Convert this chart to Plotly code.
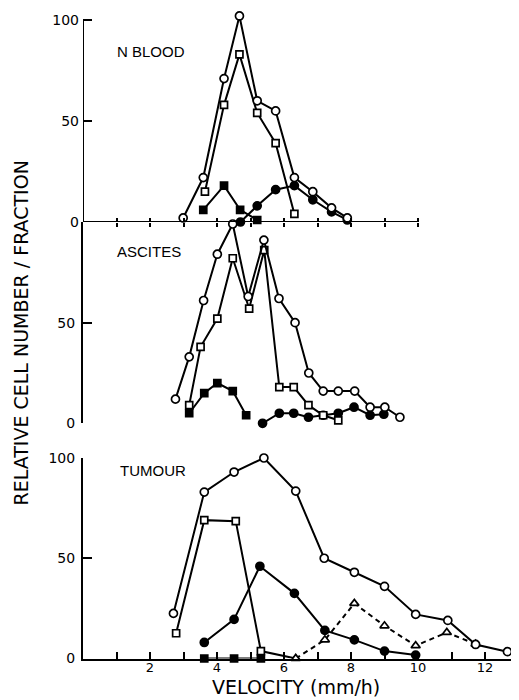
import plotly.graph_objects as go

# ---------------- data ----------------
# N BLOOD panel
nb_open_circle_x = [2.99, 3.59, 4.21, 4.67, 5.20, 5.75, 6.31, 6.86, 7.42, 7.89]
nb_open_circle_y = [2, 22, 71, 102, 60, 55, 22, 15, 7, 2]
nb_open_square_x = [3.64, 4.21, 4.67, 5.20, 5.75, 6.31]
nb_open_square_y = [15, 58, 83, 54, 39, 4]
nb_filled_square_x = [3.59, 4.21, 4.69, 5.20]
nb_filled_square_y = [6, 18, 6, 1]
nb_filled_circle_x = [4.70, 5.20, 5.75, 6.31, 6.86, 7.42, 7.89]
nb_filled_circle_y = [0, 8, 16, 18, 11, 5, 1]

# ASCITES panel
as_open_circle_x = [2.76, 3.17, 3.60, 4.01, 4.47, 4.93, 5.40, 5.85, 6.33, 6.74, 7.17, 7.62, 8.11, 8.57, 9.01, 9.46]
as_open_circle_y = [12, 33, 61, 84, 99, 63, 91, 62, 50, 25, 16, 16, 16, 8, 8, 3]
as_open_square_x = [3.17, 3.51, 4.01, 4.47, 4.96, 5.41, 5.86, 6.29, 6.73, 7.17, 7.62]
as_open_square_y = [9, 38, 52, 82, 57, 86, 18, 18, 9, 4, 1.5]
as_filled_square_x = [3.17, 3.62, 4.01, 4.47, 4.87]
as_filled_square_y = [5, 15, 20, 16, 4]
as_filled_circle_x = [5.36, 5.86, 6.29, 6.73, 7.17, 7.62, 8.09, 8.57, 8.98]
as_filled_circle_y = [0, 5, 5, 3, 4, 5, 8, 4, 4.5]

# TUMOUR panel
tu_open_circle_x = [2.70, 3.62, 4.51, 5.40, 6.35, 7.20, 8.10, 9.00, 9.93, 10.89, 11.72, 12.67]
tu_open_circle_y = [22.5, 83, 93, 100, 83.5, 50, 43, 36, 22, 19, 7, 3.4]
tu_open_square_x = [2.78, 3.62, 4.56, 5.31, 6.35]
tu_open_square_y = [12.6, 69, 68.5, 3.7, 0]
tu_filled_square_x = [3.62, 4.51, 5.31]
tu_filled_square_y = [0, 0, 0]
tu_filled_circle_x = [3.62, 4.51, 5.28, 6.31, 7.22, 8.10, 9.00, 9.93]
tu_filled_circle_y = [8, 19.5, 46, 32.5, 14, 9.3, 3.7, 1.7]
tu_triangle_x = [6.35, 7.22, 8.10, 9.00, 9.93, 10.86, 11.72]
tu_triangle_y = [0, 9.3, 27.5, 16.3, 6.4, 13, 7.2]

panel_labels = ["N BLOOD", "ASCITES", "TUMOUR"]
x_tick_vals = list(range(1, 14))
x_tick_text = [str(v) if v % 2 == 0 else "" for v in x_tick_vals]
x_title = "VELOCITY (mm/h)"
y_title = "RELATIVE CELL NUMBER / FRACTION"

# ---------------- figure ----------------
W, H = 519, 700
OFF = 8      # the page body margin shifts the figure by this many pixels
X0 = 83      # window pixel of x = 0
PX_PER_X = 33.5


def py(p):
    """window pixel row -> paper fraction"""
    return 1 - (p - OFF) / H


def px(p):
    """window pixel column -> paper fraction"""
    return (p - OFF) / W


fig = go.Figure()


def add(xs, ys, yaxis, symbol, fill, size, dash="solid", symbols=None):
    fig.add_trace(go.Scatter(
        x=xs, y=ys, xaxis="x", yaxis=yaxis, mode="lines+markers",
        line=dict(color="black", width=2, dash=dash),
        marker=dict(symbol=symbols if symbols else symbol, size=size, color=fill,
                    line=dict(color="black", width=1.7)),
        cliponaxis=False, showlegend=False, hoverinfo="x+y"))


# N BLOOD
add(nb_filled_square_x, nb_filled_square_y, "y", "square", "black", 7)
add(nb_filled_circle_x, nb_filled_circle_y, "y", "circle", "black", 8)
add(nb_open_square_x, nb_open_square_y, "y", "square", "white", 7)
add(nb_open_circle_x, nb_open_circle_y, "y", "circle", "white", 8)
# ASCITES
add(as_filled_square_x, as_filled_square_y, "y2", "square", "black", 7)
add(as_filled_circle_x, as_filled_circle_y, "y2", "circle", "black", 8)
add(as_open_square_x, as_open_square_y, "y2", "square", "white", 7)
add(as_open_circle_x, as_open_circle_y, "y2", "circle", "white", 8)
# TUMOUR
add(tu_filled_square_x, tu_filled_square_y, "y3", "square", "black", 7)
add(tu_filled_circle_x, tu_filled_circle_y, "y3", "circle", "black", 8)
add(tu_open_square_x, tu_open_square_y, "y3", "square", "white", 7,
    symbols=["square"] * (len(tu_open_square_x) - 1) + ["triangle-up"])
add(tu_triangle_x, tu_triangle_y, "y3", "triangle-up", "white", 8, dash="5px,4px")
add(tu_open_circle_x, tu_open_circle_y, "y3", "circle", "white", 8)

# invisible helpers so that the top-panel tick axes are drawn
for ax in ("x2", "x3"):
    fig.add_trace(go.Scatter(x=[None], y=[None], xaxis=ax, yaxis="y",
                             showlegend=False, hoverinfo="skip"))

tickfont = dict(family="DejaVu Sans", size=14, color="black")
common_y = dict(anchor="x", ticks="inside", ticklen=9, tickwidth=2, tickcolor="black",
                showgrid=False, zeroline=False, tickfont=tickfont, ticklabelstandoff=3,
                linecolor="black", linewidth=2, automargin=False)

x_right_px = 518.5
xdom = [px(X0), px(x_right_px)]
xr = [0, (x_right_px - X0) / PX_PER_X]

fig.update_layout(
    width=W, height=H,
    margin=dict(l=0, r=0, t=0, b=0, pad=0, autoexpand=False),
    paper_bgcolor="white", plot_bgcolor="white",
    showlegend=False,
    xaxis=dict(domain=xdom, range=xr, anchor="y3", showline=True, linecolor="black",
               linewidth=2, ticks="inside", ticklen=7, tickwidth=2, tickcolor="black",
               tickvals=x_tick_vals, ticktext=x_tick_text,
               tickfont=dict(family="DejaVu Sans", size=13, color="black"),
               showgrid=False, zeroline=False, ticklabelstandoff=-4, automargin=False),
    xaxis2=dict(overlaying="x", anchor="y", range=xr, ticks="outside", ticklen=4,
                tickwidth=2, tickcolor="black", tickvals=x_tick_vals[:10],
                showticklabels=False, showline=False, showgrid=False, zeroline=False,
                automargin=False),
    xaxis3=dict(overlaying="x", anchor="y", range=xr, ticks="inside", ticklen=4,
                tickwidth=2, tickcolor="black", tickvals=x_tick_vals[:10],
                showticklabels=False, showline=False, showgrid=False, zeroline=False,
                automargin=False),
    yaxis=dict(domain=[py(222), py(222 - 104 * 2.02)], range=[0, 104],
               tickvals=[0, 50, 100], showline=False, **common_y),
    yaxis2=dict(domain=[py(423.3), py(222)], range=[0, 100],
                tickvals=[0, 50], showline=True, **common_y),
    yaxis3=dict(domain=[py(658.5), py(458)], range=[0, 100],
                tickvals=[0, 50, 100], showline=True, **common_y),
)

# axis lines of the top panel (y from 0 to 100, x from 0 to 10)
fig.add_shape(type="line", xref="x", yref="y", x0=0, x1=0, y0=0, y1=100,
              line=dict(color="black", width=2))
fig.add_shape(type="line", xref="x", yref="y", x0=0, x1=10, y0=0, y1=0,
              line=dict(color="black", width=2))

label_font = dict(family="Liberation Sans", size=15, color="black")
fig.add_annotation(x=0.96, y=84.6, xref="x", yref="y", text=panel_labels[0],
                   showarrow=False, xanchor="left", yanchor="middle", font=label_font)
fig.add_annotation(x=0.96, y=85.4, xref="x", yref="y2", text=panel_labels[1],
                   showarrow=False, xanchor="left", yanchor="middle", font=label_font)
fig.add_annotation(x=1.04, y=93.6, xref="x", yref="y3", text=panel_labels[2],
                   showarrow=False, xanchor="left", yanchor="middle", font=label_font)

fig.add_annotation(x=px(296), y=py(687), xref="paper", yref="paper", text=x_title,
                   showarrow=False, xanchor="center", yanchor="middle",
                   font=dict(family="DejaVu Sans", size=19, color="black"))
fig.add_annotation(x=px(20), y=py(333.5), xref="paper", yref="paper", text=y_title,
                   showarrow=False, xanchor="center", yanchor="middle", textangle=-90,
                   font=dict(family="DejaVu Sans", size=19, color="black"))

fig.write_html("out.html")
